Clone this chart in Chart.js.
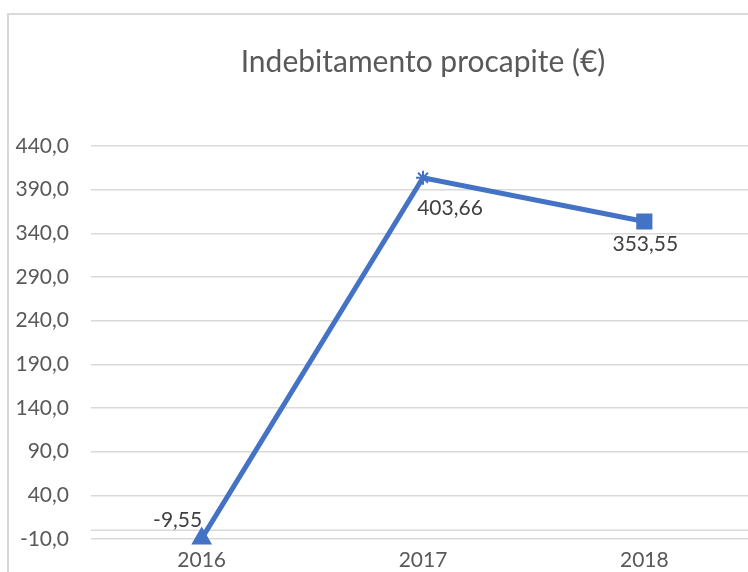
<!DOCTYPE html>
<html lang="it">
<head>
  <meta charset="UTF-8" />
  <title>Indebitamento procapite</title>
  <script src="https://cdn.jsdelivr.net/npm/chart.js"></script>
  <style>
    html, body { margin: 0; padding: 0; background: #fff; overflow: hidden; }
    body { width: 748px; height: 572px; position: relative; }
    .cornice {
      position: absolute; left: 7px; top: 13px;
      border-left: 2px solid #d9d9d9; border-top: 2px solid #d9d9d9;
    }
    .contenitore { width: 760px; height: 559px; position: relative; }
  </style>
</head>
<body>
  <div class="cornice">
    <div class="contenitore"><canvas id="grafico"></canvas></div>
  </div>
  <script>
    const anni = ['2016', '2017', '2018'];
    const valori = [-9.55, 403.66, 353.55];
    const simboli = ['triangle', 'star', 'rect'];
    const raggi = [10, 7, 10];
    // spostamento etichette rispetto al punto (px)
    const spostamenti = [[-24, -18], [27, 30], [1, 23]];

    const blu = '#4472C4';
    const grigio = '#d9d9d9';
    const virgola = (v, d) => v.toFixed(d).replace('.', ',');

    const lineaZero = {
      id: 'lineaZero',
      beforeDatasetsDraw(chart) {
        const { ctx, chartArea, scales } = chart;
        const y = scales.y.getPixelForValue(0);
        ctx.save();
        ctx.strokeStyle = grigio;
        ctx.lineWidth = 1.5;
        ctx.beginPath();
        ctx.moveTo(chartArea.left, y);
        ctx.lineTo(chartArea.right, y);
        ctx.stroke();
        ctx.restore();
      }
    };

    const etichette = {
      id: 'etichette',
      afterDatasetsDraw(chart) {
        const { ctx } = chart;
        const meta = chart.getDatasetMeta(0);
        ctx.save();
        ctx.font = '21px Lato';
        ctx.fillStyle = '#404040';
        ctx.textAlign = 'center';
        ctx.textBaseline = 'middle';
        meta.data.forEach((p, i) => {
          ctx.fillText(virgola(valori[i], 2), p.x + spostamenti[i][0], p.y + spostamenti[i][1]);
        });
        ctx.restore();
      }
    };

    new Chart(document.getElementById('grafico'), {
      type: 'line',
      data: {
        labels: anni,
        datasets: [{
          data: valori,
          borderColor: blu,
          backgroundColor: blu,
          borderWidth: 5,
          tension: 0,
          pointStyle: simboli,
          pointRadius: raggi,
          pointHoverRadius: raggi,
          pointBorderWidth: 2,
          pointBackgroundColor: blu,
          pointBorderColor: blu,
          clip: false
        }]
      },
      options: {
        responsive: true,
        maintainAspectRatio: false,
        animation: false,
        layout: { padding: { left: 0, right: 14, top: 0, bottom: 0 } },
        plugins: {
          legend: { display: false },
          tooltip: { enabled: false },
          title: {
            display: true,
            text: 'Indebitamento procapite (€)',
            fullSize: false,
            color: '#595959',
            font: { family: 'Lato', size: 30, weight: 'normal' },
            padding: { top: 29, bottom: 66 }
          }
        },
        scales: {
          x: {
            offset: true,
            grid: { display: false, drawTicks: false },
            border: { display: false },
            ticks: { color: '#595959', font: { family: 'Lato', size: 21 }, padding: 9 },
            afterFit: s => { s.height = 35; }
          },
          y: {
            min: -10,
            max: 440,
            border: { display: false },
            grid: { color: grigio, lineWidth: 1.5, drawTicks: false },
            ticks: {
              stepSize: 50,
              color: '#595959',
              font: { family: 'Lato', size: 21 },
              padding: 22,
              callback: v => virgola(v, 1)
            },
            afterFit: s => { s.width = 82; }
          }
        }
      },
      plugins: [lineaZero, etichette]
    });
  </script>
</body>
</html>
